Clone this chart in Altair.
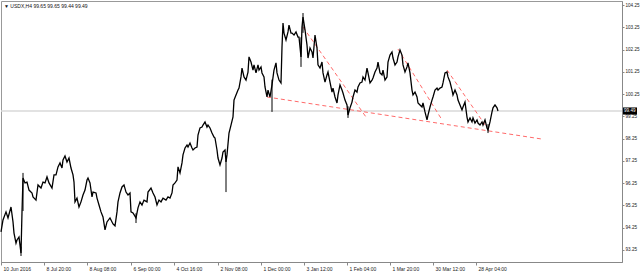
import altair as alt
import pandas as pd

# H4 bar index (time axis, bars since 10 Jun 2016) and close prices
bar = [0, 6, 15, 21, 30, 36, 39, 45, 48, 54, 60, 63, 66, 72, 78, 84, 93, 96, 105, 111,
       120, 126, 132, 138, 144, 153, 159, 165, 171, 177, 183, 186, 192, 198, 204, 210, 216, 219, 222, 228,
       234, 240, 246, 252, 258, 261, 267, 273, 276, 285, 288, 294, 300, 306, 312, 318, 327, 336, 342, 348,
       351, 357, 363, 369, 375, 381, 387, 390, 396, 405, 411, 417, 423, 429, 438, 441, 450, 456, 462, 468,
       474, 480, 486, 495, 501, 507, 513, 516, 522, 528, 531, 537, 543, 546, 552, 558, 561, 567, 573, 576,
       582, 588, 591, 597, 603, 606, 612, 618, 621, 627, 633, 639, 642, 648, 651, 657, 663, 666, 672, 675,
       678, 684, 690, 696, 699, 705, 711, 714, 720, 723, 729, 735, 741, 744, 750, 756, 759, 765, 771, 774,
       780, 783, 789, 792, 798, 801, 807, 813, 819, 825, 828, 834, 840, 843, 846, 849, 855, 861, 864, 870,
       873, 879, 885, 891, 894, 900, 903, 906, 912, 918, 921, 927, 933, 936, 942, 948, 951, 957, 963, 966,
       972, 978, 981, 987, 993, 996, 1002, 1008, 1011, 1017, 1023, 1026, 1032, 1038, 1041, 1047, 1053, 1056, 1062, 1068,
       1071, 1077, 1083, 1086, 1092, 1098, 1101, 1107, 1113, 1116, 1122, 1128, 1131, 1137, 1143, 1146, 1152, 1158, 1161, 1167,
       1173, 1176, 1182, 1188, 1191, 1197, 1203, 1206, 1212, 1218, 1221, 1227, 1233, 1236, 1242, 1248, 1251, 1257, 1263, 1266,
       1272, 1278, 1281, 1287, 1293, 1296, 1302, 1308, 1311, 1317, 1323, 1326, 1332, 1338, 1341, 1347, 1353, 1356, 1362, 1368,
       1371, 1377, 1383, 1386, 1392, 1398, 1401, 1407, 1413, 1416, 1422, 1428, 1431, 1437, 1443, 1446, 1452, 1458, 1461, 1467,
       1473, 1476, 1482, 1488, 1491]

close = [94.06, 94.60, 94.96, 94.69, 95.18, 94.51, 94.01, 93.56, 93.70, 93.83, 93.11, 94.96, 96.48, 96.26, 96.30, 95.94, 95.81, 95.63, 95.49, 96.17,
         96.03, 96.30, 96.26, 96.53, 96.26, 96.03, 96.62, 96.62, 96.98, 97.16, 96.93, 97.29, 97.47, 97.20, 97.38, 96.93, 96.62, 96.30, 95.41, 95.58,
         95.18, 95.41, 95.72, 95.94, 96.39, 96.48, 96.26, 95.63, 95.85, 95.81, 95.58, 95.27, 94.96, 94.73, 94.15, 94.51, 94.69, 94.42, 94.33, 94.96,
         95.41, 95.81, 96.08, 96.17, 95.85, 95.72, 95.81, 94.96, 94.91, 94.69, 95.14, 95.41, 95.27, 95.49, 95.41, 95.85, 96.03, 95.81, 95.63, 95.27,
         95.49, 95.41, 95.58, 95.49, 95.63, 95.58, 95.81, 96.17, 96.26, 96.39, 96.98, 96.71, 97.16, 97.52, 97.83, 97.96, 97.87, 98.05, 97.83, 97.74,
         97.83, 97.87, 98.41, 98.73, 98.77, 98.86, 99.00, 98.77, 98.86, 98.73, 98.50, 98.32, 98.28, 97.74, 97.38, 97.07, 97.38, 97.65, 97.74, 97.20,
         97.52, 98.50, 98.86, 99.22, 99.98, 100.21, 100.43, 100.52, 101.02, 101.42, 101.02, 100.88, 101.24, 101.92, 101.69, 101.33, 101.56, 101.20, 101.56, 101.33,
         101.47, 101.20, 101.02, 100.57, 100.12, 100.43, 100.12, 100.66, 101.33, 101.65, 101.20, 100.88, 100.75, 102.36, 103.44, 102.99, 102.68, 103.04, 103.35, 102.99,
         102.99, 102.90, 103.04, 102.81, 102.81, 101.92, 103.26, 103.71, 103.13, 102.45, 101.87, 102.32, 102.14, 101.87, 102.90, 102.32, 101.56, 101.42, 101.69, 101.20,
         100.79, 101.11, 101.24, 100.79, 100.34, 100.52, 100.12, 99.85, 100.21, 100.66, 100.43, 100.30, 99.98, 99.76, 99.31, 99.63, 99.89, 100.12, 100.43, 100.34,
         100.57, 100.75, 100.79, 101.02, 100.88, 101.42, 101.20, 100.75, 100.88, 100.97, 101.24, 101.42, 101.69, 101.20, 101.11, 101.33, 100.88, 101.02, 101.69, 102.00,
         102.14, 101.87, 101.56, 101.69, 101.92, 102.23, 102.00, 101.56, 101.24, 101.47, 101.65, 101.20, 100.43, 100.21, 100.34, 100.12, 99.85, 99.76, 99.67, 99.85,
         99.45, 99.09, 99.31, 99.67, 99.98, 100.12, 100.43, 100.52, 100.43, 100.52, 100.57, 100.75, 101.20, 101.24, 101.02, 100.79, 100.43, 100.21, 100.43, 100.21,
         99.98, 99.76, 99.54, 99.67, 99.89, 99.22, 99.00, 99.18, 99.00, 99.18, 98.95, 99.09, 98.95, 98.86, 99.00, 98.86, 99.09, 98.73, 98.64, 99.00,
         99.45, 99.63, 99.76, 99.63, 99.49]

# notable candle wicks (bar, low, high)
wick_bar = [60, 66, 405, 675, 813, 900, 906, 1041, 1461]
wick_low = [92.98, 95.00, 94.46, 95.85, 99.45, 101.47, 103.00, 99.18, 98.50]
wick_high = [93.40, 96.71, 94.90, 97.30, 100.90, 102.80, 103.89, 99.70, 98.90]

# trend lines drawn on the chart (id, bar, price)
tl_id = ["a", "a", "b", "b", "c", "c", "d", "d"]
tl_bar = [798, 1623, 906, 1095, 1191, 1323, 1338, 1461]
tl_price = [100.12, 98.23, 103.26, 99.22, 102.27, 99.09, 101.33, 98.68]

# axis ticks
x_ticks = [0, 129, 258, 390, 519, 651, 780, 909, 1038, 1167, 1296, 1425]
x_labels = ["10 Jun 2016", "8 Jul 20:00", "8 Aug 08:00", "6 Sep 00:00", "4 Oct 16:00",
            "2 Nov 08:00", "1 Dec 00:00", "3 Jan 12:00", "1 Feb 04:00", "1 Mar 20:00",
            "30 Mar 12:00", "28 Apr 04:00"]
y_ticks = [93.25, 94.25, 95.25, 96.25, 97.25, 98.25, 99.25, 100.25, 101.25, 102.25, 103.25, 104.25]

last_price = 99.49
header = "\u25BC USDX,H4  99.65 99.65 99.44 99.49"

FONT = "Liberation Sans"

price_df = pd.DataFrame({"bar": bar, "close": close})
wick_df = pd.DataFrame({"bar": wick_bar, "low": wick_low, "high": wick_high})
tl_df = pd.DataFrame({"id": tl_id, "bar": tl_bar, "price": tl_price})
last_df = pd.DataFrame({"price": [last_price], "label": [f"{last_price:.2f}"]})

label_expr = " : ".join(
    f"datum.value == {v} ? '{l}'" for v, l in zip(x_ticks, x_labels)
) + " : ''"

xscale = alt.Scale(domain=[0, 1863], nice=False, zero=False)
yscale = alt.Scale(domain=[92.71, 104.43], nice=False, zero=False)

x_axis = alt.Axis(values=x_ticks, labelExpr=label_expr, title=None, grid=False,
                  labelAlign="left", labelBaseline="top", labelOffset=2, labelPadding=1,
                  tickSize=3, labelFontSize=5, labelFont=FONT, labelColor="#222",
                  domainColor="#888", tickColor="#888", labelOverlap=False)
y_axis = alt.Axis(values=y_ticks, format=".2f", orient="right", title=None, grid=False,
                  tickSize=2, labelPadding=1, labelFontSize=4.6, labelFont=FONT,
                  labelColor="#222", domainColor="#888", tickColor="#888", labelOverlap=False)

base_x = alt.X("bar:Q", scale=xscale, axis=x_axis)

last_line = alt.Chart(last_df).mark_rule(color="#d8d8d8", strokeWidth=1.5).encode(
    y=alt.Y("price:Q", scale=yscale, axis=y_axis)
)

price_line = alt.Chart(price_df).mark_line(color="black", strokeWidth=1.3, strokeJoin="miter").encode(
    x=base_x,
    y=alt.Y("close:Q", scale=yscale, axis=y_axis),
)

wicks = alt.Chart(wick_df).mark_rule(color="black", strokeWidth=1).encode(
    x=alt.X("bar:Q", scale=xscale, axis=x_axis),
    y=alt.Y("low:Q", scale=yscale, axis=y_axis),
    y2="high:Q",
)

trend = alt.Chart(tl_df).mark_line(color="#ff6a6a", strokeWidth=1, strokeDash=[4, 3]).encode(
    x=alt.X("bar:Q", scale=xscale, axis=x_axis),
    y=alt.Y("price:Q", scale=yscale, axis=y_axis),
    detail="id:N",
)

box = alt.Chart(last_df).transform_calculate(
    top="datum.price + 0.16", bot="datum.price - 0.16"
).mark_rect(color="black").encode(
    x=alt.value(622), x2=alt.value(636),
    y=alt.Y("top:Q", scale=yscale, axis=y_axis), y2="bot:Q",
)

box_text = alt.Chart(last_df).mark_text(
    color="white", fontSize=4.6, font=FONT, align="left", baseline="middle"
).encode(
    x=alt.value(623),
    y=alt.Y("price:Q", scale=yscale, axis=y_axis),
    text="label:N",
)

title_text = alt.Chart(pd.DataFrame({"t": [header]})).mark_text(
    color="#111", fontSize=5, font=FONT, align="left", baseline="top"
).encode(x=alt.value(3), y=alt.value(3), text="t:N")

chart = alt.layer(last_line, trend, price_line, wicks, box, box_text, title_text).properties(
    width=621, height=261,
    autosize=alt.AutoSizeParams(type="none"),
    padding={"left": 1, "top": 1, "right": 18, "bottom": 10},
    background="white",
).configure_view(stroke="#999", strokeWidth=1)

chart.save("out.html", embed_options={"renderer": "svg", "actions": False})
